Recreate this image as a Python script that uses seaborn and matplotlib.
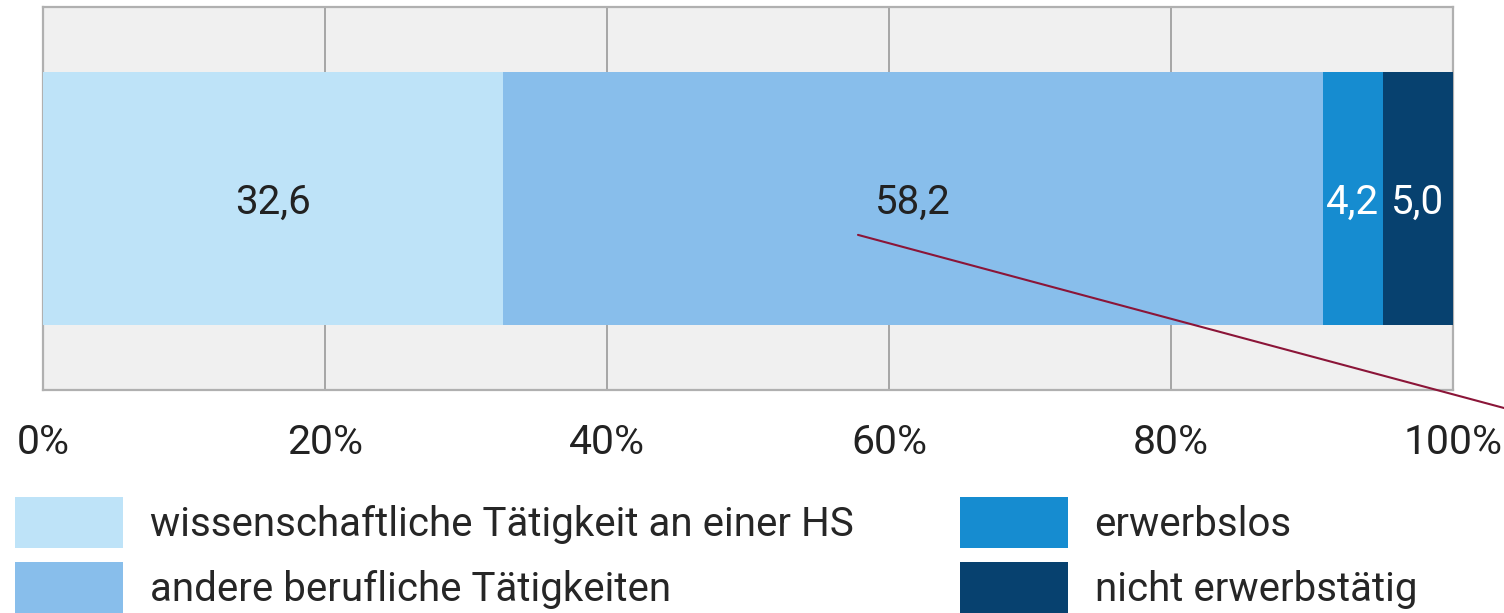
import matplotlib
matplotlib.use("Agg")
import matplotlib.pyplot as plt
from matplotlib.ticker import PercentFormatter
import seaborn as sns
import pandas as pd
import numpy as np

categories = ["wissenschaftliche Tätigkeit an einer HS", "andere berufliche Tätigkeiten",
              "erwerbslos", "nicht erwerbstätig"]
values = [32.6, 58.2, 4.2, 5.0]
value_labels = ["32,6", "58,2", "4,2", "5,0"]
colors = ["#bee3f8", "#88beeb", "#168cd0", "#07416f"]
label_colors = ["#222222", "#222222", "white", "white"]
ticks = [0, 20, 40, 60, 80, 100]

sns.set_style("white")
plt.rcParams['font.family'] = ['Roboto', 'DejaVu Sans']

df = pd.DataFrame({"kat": categories, "wert": values})
df["ende"] = df["wert"].cumsum()
df["start"] = df["ende"] - df["wert"]
df["row"] = "Alle"

fig = plt.figure(figsize=(15.04, 6.13), dpi=100)
ax = fig.add_axes([43/1504, 1-390/613, 1410/1504, 383/613])
ax.set_facecolor("#f0f0f0")

# stacked bar: draw cumulative totals from longest to shortest
for i in reversed(range(len(df))):
    sns.barplot(x=[df["ende"][i]], y=[df["row"][i]], color=colors[i], width=0.66,
                saturation=1, ax=ax, label=categories[i], zorder=3, linewidth=0)

for i, row in df.iterrows():
    ax.text(row["start"] + row["wert"]/2, 0.01, value_labels[i], ha="center", va="center",
            fontsize=29, color=label_colors[i], zorder=4)

ax.set_xlim(0, 100)
ax.set_ylim(0.5, -0.5)
ax.set_xticks(ticks)
ax.xaxis.set_major_formatter(PercentFormatter(decimals=0))
ax.set_yticks([])
ax.set_xlabel("")
ax.set_ylabel("")
ax.grid(axis="x", color="#a0a0a0", lw=1.3, zorder=1)
ax.tick_params(axis="x", length=6, width=1.3, color="#a8a8a8", labelsize=29.5,
               labelcolor="#222222", pad=18)
for s in ax.spines.values():
    s.set_color("#b0b0b0")
    s.set_linewidth(1.6)

# reorder legend handles
handles, labels = ax.get_legend_handles_labels()
order = [labels.index(c) for c in categories]
ax.legend([handles[k] for k in order], [labels[k] for k in order],
          loc="upper left", bbox_to_anchor=(15/1504, 1-497/613),
          bbox_transform=fig.transFigure, ncol=2, frameon=False, fontsize=29,
          handlelength=2.68, handleheight=1.57, handletextpad=0.66,
          labelspacing=0.35, columnspacing=2.65, borderpad=0, borderaxespad=0)

ax.annotate("", xy=(57.8, 0.095), xycoords="data", xytext=(1.0, 1-408/613),
            textcoords="figure fraction",
            arrowprops=dict(arrowstyle="-", color="#8b1538", lw=1.5,
                            shrinkA=0, shrinkB=0), annotation_clip=False)

fig.savefig("out.png", dpi=100)
